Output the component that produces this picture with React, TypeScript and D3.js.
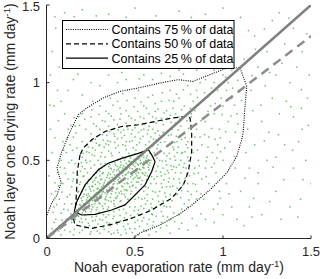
import { useEffect, useRef } from 'react';
import * as d3 from 'd3';

type Pt = [number, number];

// axis ticks
const xTicks = [0, 0.5, 1, 1.5];
const yTicks = [0, 0.5, 1, 1.5];
const tickLabels = ['0', '0.5', '1', '1.5'];

// density contours (mm/day)
const contour25: Pt[] = [
  [0.155, 0.17], [0.169, 0.234], [0.216, 0.342], [0.292, 0.439], [0.348, 0.481], [0.424, 0.513],
  [0.519, 0.545], [0.576, 0.568], [0.595, 0.535], [0.614, 0.492], [0.595, 0.428], [0.557, 0.342],
  [0.5, 0.277], [0.443, 0.213], [0.367, 0.18], [0.273, 0.152], [0.197, 0.148]
];
const contour50: Pt[] = [
  [0.1875, 0.535], [0.172, 0.428], [0.169, 0.32], [0.163, 0.213], [0.15, 0.127], [0.159, 0.084],
  [0.254, 0.062], [0.367, 0.088], [0.481, 0.127], [0.595, 0.18], [0.708, 0.256], [0.775, 0.342],
  [0.803, 0.428], [0.822, 0.557], [0.822, 0.686], [0.8125, 0.772], [0.794, 0.783], [0.708, 0.772],
  [0.614, 0.75], [0.519, 0.729], [0.424, 0.718], [0.33, 0.686], [0.254, 0.632], [0.206, 0.579]
];
const contour75: Pt[] = [
  [0, 0.148], [0.027, 0.226], [0.057, 0.277], [0.08, 0.355], [0.057, 0.452], [0.084, 0.555],
  [0.131, 0.684], [0.178, 0.794], [0.226, 0.837], [0.318, 0.901], [0.415, 0.944], [0.528, 0.968],
  [0.642, 0.998], [0.744, 1.019], [0.83, 1.008], [0.926, 1.052], [1.028, 1.097], [1.097, 1.095],
  [1.135, 0.976], [1.125, 0.847], [1.114, 0.677], [1.106, 0.632], [1.078, 0.525], [1.021, 0.419],
  [0.926, 0.31], [0.8125, 0.202], [0.744, 0.148], [0.642, 0.084], [0.528, 0.032], [0.489, 0]
];

// scatter of Noah evaporation vs layer-one drying
const coreDots: Pt[] = [
  [.18,.19],[.2,.24],[.22,.2],[.21,.28],[.24,.22],[.25,.3],[.23,.26],[.27,.25],[.26,.33],[.28,.29],[.29,.36],[.3,.27],
  [.31,.33],[.3,.4],[.32,.3],[.33,.37],[.34,.28],[.35,.42],[.34,.34],[.36,.31],[.37,.39],[.38,.35],[.36,.45],[.39,.29],
  [.4,.41],[.41,.36],[.42,.47],[.4,.32],[.43,.4],[.44,.35],[.45,.44],[.46,.38],[.47,.49],[.48,.42],[.49,.34],[.5,.46],
  [.51,.4],[.52,.51],[.53,.44],[.54,.37],[.55,.49],[.56,.42],[.57,.53],[.58,.47],[.52,.36],[.48,.3],[.44,.28],[.46,.25],
  [.42,.24],[.38,.22],[.35,.2],[.32,.19],[.28,.18],[.25,.17],[.22,.17],[.19,.21],[.2,.3],[.23,.35],[.25,.38],[.28,.42],
  [.31,.45],[.33,.48],[.37,.49],[.4,.5],[.43,.52],[.47,.53],[.5,.54],[.54,.55],[.27,.22],[.29,.24],[.33,.25],[.36,.26],
  [.39,.26],[.41,.29],[.45,.31],[.49,.38],[.51,.43],[.53,.48],[.55,.45],[.57,.4],[.59,.5],[.58,.44],[.56,.5],[.24,.27],
  [.26,.24],[.3,.31],[.32,.34],[.35,.36],[.37,.33],[.39,.38],[.41,.43],[.43,.45],[.45,.41],[.47,.45],[.49,.47],[.34,.39],
  [.31,.38],[.29,.32],[.27,.28],[.25,.26],[.23,.23],[.21,.22],[.36,.41],[.38,.44],[.4,.46],[.42,.49],[.44,.5],[.46,.47],
  [.48,.49],[.5,.5],[.52,.47],[.54,.42],[.53,.39],[.51,.36],[.47,.33],[.43,.33],[.4,.35],[.37,.3],[.34,.31],[.31,.28],
  [.28,.26],[.26,.2],[.24,.19],[.3,.22],[.33,.22],[.35,.24],[.38,.24],[.4,.27],[.42,.3],[.44,.31],[.46,.35],[.48,.36],
  [.5,.39],[.52,.42],[.55,.47],[.57,.48],[.3,.35],[.32,.42],[.27,.37],[.22,.31],[.24,.33],[.26,.36],[.28,.39],[.3,.43],
  [.35,.46],[.39,.47],[.41,.39],[.45,.48],[.33,.29],[.36,.37],[.43,.42],[.46,.42],[.5,.43],[.53,.5],[.55,.52]
];
const coreDots2: Pt[] = [
  [.185,.215],[.205,.265],[.215,.195],[.235,.285],[.245,.245],[.255,.215],[.265,.305],[.275,.345],[.285,.265],[.295,.225],
  [.305,.375],[.315,.295],[.325,.355],[.335,.265],[.345,.405],[.355,.325],[.365,.285],[.375,.425],[.385,.365],[.395,.315],
  [.405,.445],[.415,.385],[.425,.335],[.435,.465],[.445,.405],[.455,.355],[.465,.495],[.475,.395],[.485,.445],[.495,.505],
  [.505,.415],[.515,.475],[.525,.385],[.535,.525],[.545,.455],[.555,.405],[.565,.515],[.575,.455],[.585,.485],[.565,.375],
  [.535,.345],[.505,.325],[.475,.285],[.445,.265],[.415,.235],[.385,.205],[.345,.185],[.315,.205],[.285,.195],[.255,.185],
  [.225,.245],[.215,.335],[.235,.375],[.265,.405],[.295,.445],[.325,.465],[.355,.475],[.385,.485],[.415,.505],[.445,.515],
  [.475,.515],[.515,.525],[.545,.535],[.195,.255],[.225,.275],[.255,.335],[.285,.315],[.315,.415],[.345,.355],[.375,.345],
  [.405,.375],[.435,.375],[.465,.425],[.495,.425],[.525,.445],[.555,.485],[.265,.265],[.295,.285],[.325,.325],[.355,.385],
  [.385,.405],[.415,.455],[.445,.455],[.475,.475],[.505,.485],[.535,.485],[.305,.255],[.335,.245],[.365,.235],[.395,.255],
  [.425,.285],[.455,.305],[.485,.335],[.515,.385],[.545,.415],[.245,.315],[.275,.385],[.305,.475],[.365,.445],[.395,.435],
  [.425,.425],[.455,.445],[.485,.405],[.515,.445],[.275,.235],[.235,.205],[.205,.185]
];
const innerDots: Pt[] = [
  [.3,.12],[.34,.1],[.38,.14],[.42,.11],[.45,.16],[.48,.13],[.5,.2],[.53,.15],[.56,.22],[.58,.18],[.6,.25],[.62,.2],
  [.64,.3],[.66,.24],[.68,.33],[.7,.28],[.72,.38],[.74,.32],[.76,.42],[.78,.36],[.62,.35],[.65,.4],[.6,.3],[.57,.28],
  [.55,.3],[.52,.26],[.5,.25],[.47,.2],[.44,.21],[.41,.18],[.38,.17],[.35,.15],[.32,.15],[.28,.14],[.26,.11],[.22,.12],
  [.2,.1],[.18,.14],[.24,.08],[.29,.09],[.36,.08],[.4,.09],[.44,.13],[.52,.18],[.55,.19],[.59,.22],[.63,.27],[.67,.29],
  [.69,.36],[.71,.44],[.73,.5],[.75,.47],[.77,.55],[.79,.6],[.8,.52],[.78,.68],[.76,.72],[.74,.62],[.72,.57],[.7,.51],
  [.68,.47],[.66,.45],[.64,.5],[.62,.43],[.61,.55],[.63,.6],[.65,.56],[.67,.62],[.69,.66],[.71,.7],[.73,.74],[.7,.6],
  [.68,.53],[.66,.68],[.64,.66],[.62,.63],[.6,.59],[.58,.62],[.56,.6],[.6,.7],[.57,.67],[.55,.7],[.53,.64],[.51,.6],
  [.49,.58],[.47,.62],[.45,.57],[.43,.6],[.41,.55],[.39,.58],[.37,.53],[.35,.56],[.33,.52],[.31,.55],[.29,.5],[.27,.47],
  [.25,.45],[.23,.42],[.21,.4],[.2,.46],[.19,.36],[.18,.3],[.17,.25],[.22,.5],[.24,.55],[.26,.58],[.28,.61],[.3,.6],
  [.32,.63],[.34,.66],[.36,.62],[.38,.67],[.4,.64],[.42,.68],[.44,.66],[.46,.7],[.48,.67],[.5,.71],[.52,.68],[.54,.73],
  [.58,.72],[.62,.74],[.66,.73],[.2,.52],[.19,.43],[.23,.6],[.27,.53],[.35,.6],[.45,.62],[.5,.65],[.59,.65],[.63,.69],
  [.74,.55],[.76,.5],[.79,.45],[.81,.4],[.8,.62],[.77,.34],[.74,.28],[.71,.24],[.68,.2],[.65,.17],[.62,.14],[.58,.12],
  [.54,.11],[.5,.1],[.46,.09],[.32,.07],[.27,.07],[.17,.18],[.16,.12],[.2,.16],[.61,.38],[.63,.46],[.59,.35],[.56,.33],
  [.54,.25],[.57,.24],[.65,.35],[.67,.41],[.69,.42],[.72,.46],[.7,.33],[.73,.42],[.75,.38],[.78,.48],[.8,.58]
];
const innerDots2: Pt[] = [
  [.185,.345],[.195,.485],[.205,.395],[.215,.445],[.225,.555],[.245,.495],[.255,.625],[.275,.565],[.285,.655],[.305,.525],
  [.325,.585],[.345,.625],[.365,.545],[.385,.615],[.405,.595],[.425,.645],[.445,.595],[.465,.545],[.485,.625],[.505,.565],
  [.525,.615],[.545,.655],[.565,.575],[.585,.545],[.605,.635],[.625,.575],[.645,.615],[.665,.545],[.685,.595],[.705,.665],
  [.725,.615],[.745,.695],[.765,.635],[.785,.555],[.805,.495],[.795,.415],[.775,.455],[.755,.355],[.735,.455],[.715,.335],
  [.695,.385],[.675,.265],[.655,.325],[.635,.235],[.615,.295],[.595,.195],[.575,.325],[.555,.255],[.535,.205],[.515,.155],
  [.495,.175],[.475,.145],[.455,.115],[.435,.185],[.415,.145],[.395,.105],[.375,.125],[.355,.175],[.335,.135],[.315,.115],
  [.295,.165],[.275,.115],[.255,.135],[.235,.095],[.215,.145],[.195,.125],[.175,.165],[.185,.105],[.625,.395],[.605,.455],
  [.645,.425],[.665,.375],[.685,.435],[.705,.465],[.725,.525],[.745,.585],[.765,.545],[.785,.645],[.805,.705],[.795,.755],
  [.755,.765],[.705,.745],[.655,.755],[.605,.745],[.555,.735],[.505,.725],[.455,.715],[.405,.695],[.355,.685],[.315,.665],
  [.275,.635],[.235,.585],[.205,.545],[.175,.405],[.175,.295],[.165,.225],[.595,.395],[.575,.565],[.625,.515],[.655,.495],
  [.675,.495],[.695,.545],[.715,.585],[.735,.655],[.615,.675],[.575,.695],[.535,.695],[.485,.695],[.435,.695],[.385,.655],
  [.335,.605],[.295,.595],[.255,.535],[.225,.485],[.355,.095],[.435,.075],[.515,.115],[.595,.155],[.665,.205],[.725,.275],
  [.765,.305],[.785,.385]
];
const outerDots: Pt[] = [
  [.05,.3],[.07,.25],[.09,.35],[.06,.42],[.1,.45],[.12,.38],[.08,.5],[.11,.55],[.14,.5],[.13,.6],[.09,.62],[.15,.65],
  [.12,.7],[.16,.72],[.1,.22],[.13,.28],[.15,.42],[.14,.33],[.04,.2],[.08,.16],[.12,.18],[.11,.12],[.14,.1],[.07,.08],
  [.1,.05],[.05,.12],[.03,.06],[.13,.04],[.2,.8],[.25,.78],[.3,.85],[.22,.7],[.28,.72],[.35,.8],[.4,.88],[.38,.76],
  [.45,.82],[.5,.9],[.48,.77],[.55,.85],[.6,.92],[.58,.8],[.65,.88],[.7,.95],[.68,.82],[.75,.9],[.8,.98],[.78,.85],
  [.85,.95],[.9,1.02],[.88,.88],[.95,1],[1,1.05],[.92,.92],[.33,.75],[.43,.93],[.53,.78],[.63,.83],[.73,.8],[.83,.88],
  [.97,.95],[1.03,1],[1.05,1.08],[.42,.8],[.52,.95],[.62,.77],[.72,.88],[.82,.8],[.87,1],[.26,.88],[.36,.9],[.18,.78],
  [.85,.7],[.88,.6],[.9,.75],[.92,.65],[.95,.8],[.98,.7],[1,.85],[1.03,.75],[1.05,.9],[1.08,.8],[.86,.5],[.9,.45],
  [.94,.55],[.97,.6],[1,.5],[1.04,.62],[1.07,.68],[.88,.38],[.92,.35],[.96,.42],[.85,.3],[.89,.25],[.82,.78],[.84,.82],
  [.93,.85],[1.02,.95],[1.09,.95],[.99,.9],[.87,.65],[.91,.52],[.95,.48],[1.01,.58],[.86,.42],[.3,.03],[.35,.04],[.4,.05],
  [.45,.03],[.5,.06],[.55,.05],[.6,.08],[.65,.1],[.7,.12],[.75,.15],[.8,.2],[.85,.25],[.62,.04],[.58,.02],[.52,.02],
  [.47,.06],[.42,.02],[.72,.16],[.78,.22],[.68,.08],[.66,.14],[.82,.28],[.38,.03],[.25,.04],[.2,.05],[.57,.09],[.8,.3],
  [.83,.35],[.84,.45],[.83,.55],[.84,.65],[.83,.72],[.75,.78],[.7,.79],[.65,.77],[.6,.78],[.55,.77],[.5,.76],[.45,.74],
  [.4,.73],[.35,.72],[.3,.7],[.25,.67],[.2,.62],[.17,.58],[.16,.48],[.15,.38],[.14,.22],[.7,.2],[.76,.26],[.8,.35],
  [.65,.22],[.6,.15],[.55,.13]
];
const outerDots2: Pt[] = [
  [.035,.165],[.055,.215],[.045,.355],[.065,.335],[.075,.455],[.085,.295],[.095,.565],[.105,.415],[.115,.645],[.125,.485],
  [.135,.725],[.145,.565],[.155,.775],[.165,.675],[.095,.185],[.115,.265],[.135,.155],[.145,.365],[.105,.085],[.085,.115],
  [.065,.045],[.155,.055],[.185,.035],[.215,.065],[.245,.025],[.285,.045],[.325,.055],[.365,.025],[.405,.035],[.445,.055],
  [.485,.035],[.525,.075],[.565,.045],[.605,.105],[.645,.065],[.685,.135],[.725,.105],[.765,.185],[.805,.245],[.845,.345],
  [.875,.285],[.905,.395],[.935,.455],[.965,.515],[.985,.645],[1.015,.685],[1.045,.785],[1.065,.855],[1.085,.735],[1.105,.885],
  [1.085,1.015],[1.055,.965],[1.015,1.035],[.975,.985],[.935,.965],[.895,.935],[.855,.905],[.815,.925],[.775,.955],[.735,.925],
  [.695,.885],[.655,.935],[.615,.865],[.575,.905],[.535,.875],[.495,.845],[.455,.885],[.415,.835],[.375,.855],[.335,.815],
  [.295,.795],[.255,.825],[.215,.765],[.185,.725],[.875,.755],[.915,.815],[.955,.865],[.995,.795],[.935,.705],[.895,.665],
  [.855,.565],[.915,.585],[.955,.635],[.985,.555],[.865,.465],[.905,.495],[.835,.415],[.815,.835],[.765,.825],[.715,.835],
  [.665,.805],[.615,.815],[.565,.835],[.515,.815],[.465,.785],[.415,.765],[.365,.785],[.315,.755],[.265,.735]
];
const sparseDots: Pt[] = [
  [1.15,.2],[1.2,.35],[1.25,.5],[1.3,.3],[1.35,.6],[1.4,.45],[1.45,.7],[1.18,.6],[1.22,.75],[1.28,.9],[1.32,.8],[1.38,1],
  [1.42,1.1],[1.48,.9],[1.16,.95],[1.2,1.1],[1.25,1.2],[1.3,1.05],[1.35,1.25],[1.4,1.35],[1.45,1.2],[1.12,1.15],[1.18,1.3],
  [1.28,1.4],[1.15,.45],[1.12,.08],[1.22,.15],[1.33,.12],[1.44,.25],[1.38,.2],[1.47,.5],[1.26,.68],[1.14,.7],[1.17,.82],
  [1.24,.98],[1.36,.88],[1.43,.62],[1.49,1.05],[1.4,.78],[1.3,.52],[1.2,.42],[1.1,.3],[1.05,.2],[1,.15],[.95,.1],[.9,.12],
  [.85,.08],[.8,.05],[.75,.06],[.7,.03],[.98,.3],[1.02,.35],[1.07,.45],[.97,.22],[1.08,.12],[1.13,.55],[1.5,.35],
  [1.32,1.45],[1.45,1.45],[1.05,1.3],[.1,1.45],[.2,1.47],[.35,1.44],[.5,1.48],[.62,1.43],[.75,1.46],[.9,1.44],[1,1.48],
  [1.1,1.42],[.28,1.43],[.45,1.42],[.82,1.42],[.03,1.2],[.05,1.35],[.02,1.05],[.06,.95],[.04,.85],[.07,1.1],[.02,.7],
  [.03,.55],[.01,.4],[.15,1.02],[.25,1],[.35,1.05],[.45,1.02],[.55,1.05],[.65,1.06],[.75,1.08],[.12,.95],[.2,.92],
  [.3,.98],[.4,1],[.6,1.02],[.7,1.04],[.85,1.08],[.95,1.08],[.08,.88],[.1,.8],[.02,.03],[.04,.1],[.08,.02],[.15,.02],
  [1.125,.385],[1.175,.255],[1.235,.625],[1.285,.455],[1.345,.375],[1.395,.565],[1.455,.375],[1.485,.725],[1.215,.855],
  [1.265,1.065],[1.335,1.125],[1.385,.845],[1.445,.955],[1.165,1.045],[1.185,1.215],[1.375,1.415],[1.475,1.315],[1.145,1.335],
  [1.235,1.345],[1.055,1.135],[1.065,.525],[1.035,.285],[.985,.255],[.945,.185],[.875,.155],[.825,.125],[.765,.095],
  [1.165,.135],[1.265,.235],[1.425,.135],[1.315,.665],[1.445,.835],[.175,1.055],[.425,1.065],[.525,1.025],[.775,1.055],
  [.065,.755],[.045,.645],[.025,.285],[.015,.855],[.045,1.425],[.155,1.425]
];

// reference lines: 1:1 and fitted slope
const oneToOne: Pt[] = [[0, 0], [1.5, 1.5]];
const fitLine: Pt[] = [[0, 0], [1.5, 1.3]];

const legendItems = [
  { label: 'Contains 75\u2009% of data', dash: '1,1.3' },
  { label: 'Contains 50\u2009% of data', dash: '5,3' },
  { label: 'Contains 25\u2009% of data', dash: null as string | null }
];

const W = 320;
const H = 279;
const FONT = '"Liberation Sans", Arial, Helvetica, sans-serif';

export default function App() {
  const svgRef = useRef<SVGSVGElement>(null);

  useEffect(() => {
    if (!svgRef.current) return;
    const svg = d3.select(svgRef.current);
    svg.selectAll('*').remove();

    const x = d3.scaleLinear().domain([0, 1.5]).range([47, 311]);
    const y = d3.scaleLinear().domain([0, 1.5]).range([238, 5]);

    svg.append('defs').append('clipPath').attr('id', 'plot-clip')
      .append('rect').attr('x', 47).attr('y', 5).attr('width', 264).attr('height', 233);

    const plot = svg.append('g').attr('clip-path', 'url(#plot-clip)');

    // scatter
    const dots = [
      ...coreDots, ...coreDots2, ...innerDots, ...innerDots2,
      ...outerDots, ...outerDots2, ...sparseDots
    ];
    plot.selectAll('rect.dot')
      .data(dots)
      .enter()
      .append('rect')
      .attr('class', 'dot')
      .attr('x', (d) => x(d[0]) - 0.75)
      .attr('y', (d) => y(d[1]) - 0.75)
      .attr('width', 1.5)
      .attr('height', 1.5)
      .attr('fill', '#55b855')
      .attr('opacity', 0.85);

    const line = d3.line<Pt>().x((d) => x(d[0])).y((d) => y(d[1]));

    // contours
    plot.append('path').datum(contour75)
      .attr('d', line).attr('fill', 'none').attr('stroke', '#000')
      .attr('stroke-width', 1.1).attr('stroke-dasharray', '1,1.3');
    plot.append('path').datum([...contour50, contour50[0]])
      .attr('d', line).attr('fill', 'none').attr('stroke', '#000')
      .attr('stroke-width', 1.2).attr('stroke-dasharray', '5,3');
    plot.append('path').datum([...contour25, contour25[0]])
      .attr('d', line).attr('fill', 'none').attr('stroke', '#000')
      .attr('stroke-width', 1.2);

    // gray reference lines
    plot.append('path').datum(oneToOne)
      .attr('d', line).attr('stroke', '#808080').attr('stroke-width', 2.5);
    plot.append('path').datum(fitLine)
      .attr('d', line).attr('stroke', '#8c8c8c').attr('stroke-width', 2.5)
      .attr('stroke-dasharray', '9,6');

    // axes (left + bottom only, ticks inward)
    const axis = svg.append('g').attr('stroke', '#262626').attr('fill', 'none');
    axis.append('line').attr('x1', 47).attr('x2', 311).attr('y1', 238.5).attr('y2', 238.5);
    axis.append('line').attr('x1', 46.5).attr('x2', 46.5).attr('y1', 5).attr('y2', 238.5);
    xTicks.forEach((t) => {
      axis.append('line').attr('x1', x(t)).attr('x2', x(t)).attr('y1', 238.5).attr('y2', 235.5);
    });
    yTicks.forEach((t) => {
      axis.append('line').attr('x1', 46.5).attr('x2', 49.5).attr('y1', y(t)).attr('y2', y(t));
    });

    const text = svg.append('g').attr('font-family', FONT).attr('fill', '#262626');
    xTicks.forEach((t, i) => {
      text.append('text').attr('x', x(t)).attr('y', 256)
        .attr('text-anchor', 'middle').attr('font-size', 13).text(tickLabels[i]);
    });
    yTicks.forEach((t, i) => {
      text.append('text').attr('x', 40).attr('y', Math.max(y(t) + 4.5, 10.5))
        .attr('text-anchor', 'end').attr('font-size', 13).text(tickLabels[i]);
    });

    // axis labels with superscript
    const xl = text.append('text').attr('x', 179).attr('y', 272)
      .attr('text-anchor', 'middle').attr('font-size', 14);
    xl.append('tspan').text('Noah evaporation rate (mm day');
    xl.append('tspan').attr('dy', -5).attr('font-size', 9.5).text('-1');
    xl.append('tspan').attr('dy', 5).text(')');

    const yl = text.append('text')
      .attr('transform', `translate(15,${(238 + 5) / 2}) rotate(-90)`)
      .attr('text-anchor', 'middle').attr('font-size', 14);
    yl.append('tspan').text('Noah layer one drying rate (mm day');
    yl.append('tspan').attr('dy', -5).attr('font-size', 9.5).text('-1');
    yl.append('tspan').attr('dy', 5).text(')');

    // legend
    const lg = svg.append('g');
    lg.append('rect').attr('x', 62.5).attr('y', 20.5).attr('width', 171.5).attr('height', 48)
      .attr('fill', '#fff').attr('stroke', '#000').attr('stroke-width', 1);
    legendItems.forEach((item, i) => {
      const ly = 29.5 + i * 14.3;
      const l = lg.append('line').attr('x1', 66).attr('x2', 108).attr('y1', ly).attr('y2', ly)
        .attr('stroke', '#000').attr('stroke-width', 1.2);
      if (item.dash) l.attr('stroke-dasharray', item.dash);
      lg.append('text').attr('x', 111.5).attr('y', ly + 4.5)
        .attr('font-family', FONT).attr('font-size', 12.5).attr('fill', '#000')
        .text(item.label);
    });
  }, []);

  return (
    <div style={{ position: 'fixed', left: 0, top: 0 }}>
      <svg ref={svgRef} width={W} height={H} style={{ display: 'block', background: '#fff' }} />
    </div>
  );
}
